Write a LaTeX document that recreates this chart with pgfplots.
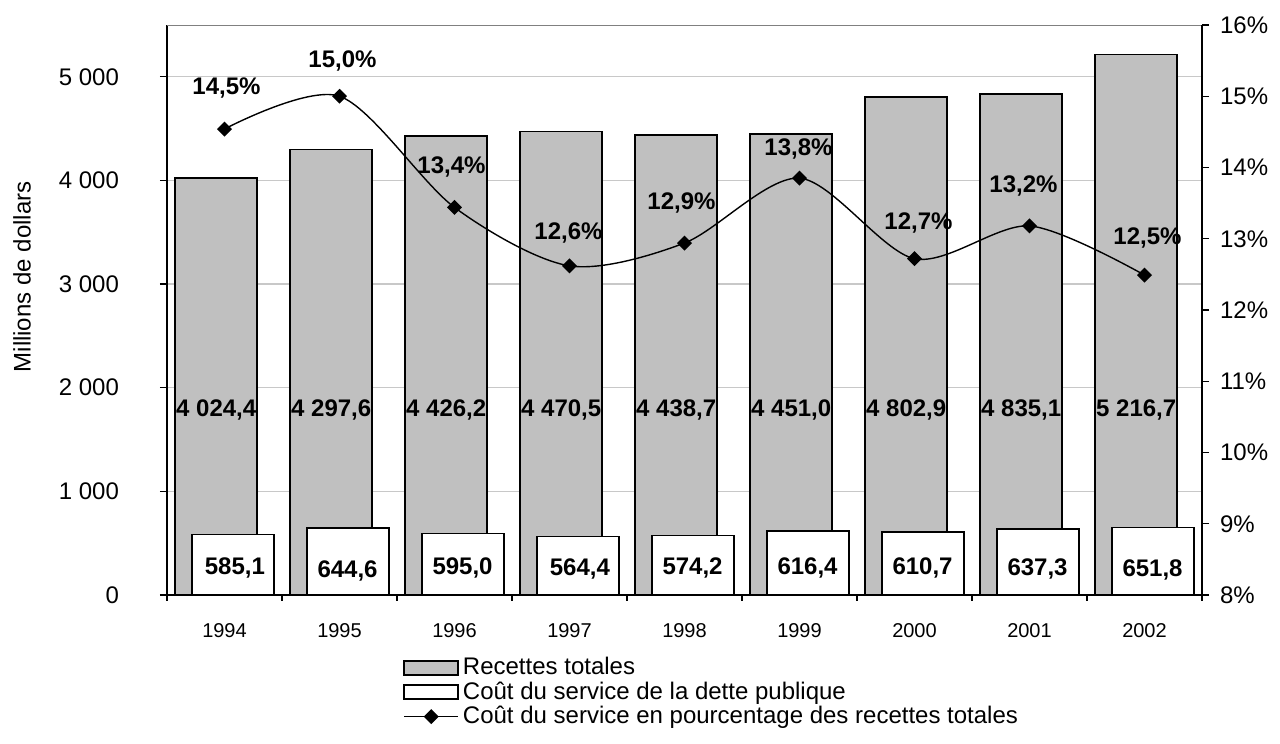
\documentclass[border=0pt]{standalone}
\usepackage{pgfplots}
\pgfplotsset{compat=1.18}
\usepackage{fontspec}
\setmainfont{Liberation Sans}
\definecolor{barg}{RGB}{192,192,192}
\definecolor{gridg}{RGB}{200,200,200}
\newcommand{\ftw}{\fontsize{12}{14}\selectfont}
\newcommand{\ften}{\fontsize{10}{12}\selectfont}
\begin{document}
\begin{tikzpicture}
\useasboundingbox (0,0) rectangle (640pt,372pt);
\begin{axis}[
  at={(83.5pt,74.5pt)}, anchor=south west,
  scale only axis, width=517.5pt, height=285pt,
  xmin=-0.5, xmax=8.5, ymin=0, ymax=5500,
  axis x line*=bottom, axis y line*=left,
  axis line style={line width=0.6pt, -},
  tick align=outside,
  xtick={0,1,2,3,4,5,6,7,8},
  xticklabels={1994,1995,1996,1997,1998,1999,2000,2001,2002},
  major x tick style={draw=none},
  minor xtick={-0.5,0.5,1.5,2.5,3.5,4.5,5.5,6.5,7.5,8.5},
  minor x tick style={black, line width=0.6pt},
  minor tick length=3pt,
  major tick length=3.5pt,
  xticklabel style={font=\ften, yshift=-7pt},
  ytick={0,1000,2000,3000,4000,5000},
  yticklabels={0,1 000,2 000,3 000,4 000,5 000},
  yticklabel style={font=\ftw, xshift=-17pt},
  y tick style={black, line width=0.6pt},
  ymajorgrids, grid style={gridg, line width=0.6pt},
  ylabel={Millions de dollars},
  ylabel style={font=\ftw, at={(axis description cs:-0.14,0.558)}, anchor=center},
]
\addplot[ybar, bar width=41pt, bar shift=-4.125pt, fill=barg, draw=black, line width=0.8pt]
  coordinates {(0,4024.4) (1,4297.6) (2,4426.2) (3,4470.5) (4,4438.7) (5,4451.0) (6,4802.9) (7,4835.1) (8,5216.7)};
\addplot[ybar, bar width=41pt, bar shift=4.125pt, fill=white, draw=black, line width=0.8pt]
  coordinates {(0,585.1) (1,644.6) (2,595.0) (3,564.4) (4,574.2) (5,616.4) (6,610.7) (7,637.3) (8,651.8)};
\addplot[draw=none, mark=none, nodes near coords, point meta=explicit symbolic,
  every node near coord/.append style={anchor=center, font=\ftw\bfseries, inner sep=0pt}]
  coordinates {(-0.072,1790) [4 024,4] (0.928,1790) [4 297,6] (1.928,1790) [4 426,2]
    (2.928,1790) [4 470,5] (3.928,1790) [4 438,7] (4.928,1790) [4 451,0]
    (5.928,1790) [4 802,9] (6.928,1790) [4 835,1] (7.928,1790) [5 216,7]};
\addplot[draw=none, mark=none, nodes near coords, point meta=explicit symbolic,
  every node near coord/.append style={anchor=center, font=\ftw\bfseries, inner sep=0pt}]
  coordinates {(0.09,260) [585,1] (1.07,230) [644,6] (2.07,260) [595,0]
    (3.09,250) [564,4] (4.07,260) [574,2] (5.07,260) [616,4]
    (6.07,260) [610,7] (7.07,250) [637,3] (8.07,245) [651,8]};
\draw[gray, line width=0.6pt] (rel axis cs:0,1) -- (rel axis cs:1,1);
\end{axis}
\begin{axis}[
  at={(83.5pt,74.5pt)}, anchor=south west,
  scale only axis, width=517.5pt, height=285pt,
  xmin=-0.5, xmax=8.5, ymin=8, ymax=16,
  axis x line=none, axis y line*=right,
  axis line style={line width=0.6pt, -},
  tick align=outside, major tick length=3.5pt,
  y tick style={black, line width=0.6pt},
  ytick={8,9,10,11,12,13,14,15,16},
  yticklabels={8\%,9\%,10\%,11\%,12\%,13\%,14\%,15\%,16\%},
  yticklabel style={font=\ftw, xshift=2pt},
  legend style={at={(0.228,-0.102)}, anchor=north west, draw=none, fill=none,
    inner sep=0pt, font=\ftw, row sep=-2pt, cells={anchor=west}},
  legend cell align=left,
]
\addlegendimage{legend image code/.code={\draw[fill=barg, draw=black, line width=0.8pt] (0pt,-3.5pt) rectangle (27pt,3.5pt);}}
\addlegendentry{Recettes totales}
\addlegendimage{legend image code/.code={\draw[fill=white, draw=black, line width=0.8pt] (0pt,-3.5pt) rectangle (27pt,3.5pt);}}
\addlegendentry{Coût du service de la dette publique}
\addplot[black, line width=0.7pt, smooth, mark=square*, mark size=2.3pt,
  mark options={rotate=45, fill=black, solid},
  legend image code/.code={\draw[black, line width=0.7pt] (0pt,0pt) -- (27pt,0pt);
     \fill[black, rotate around={45:(13.5pt,0pt)}] (11.2pt,-2.3pt) rectangle (15.8pt,2.3pt);},
  nodes near coords={\pgfplotspointmeta\%}, point meta=explicit symbolic,
  visualization depends on={\thisrow{dx} \as \dx},
  visualization depends on={\thisrow{dy} \as \dy},
  every node near coord/.append style={anchor=center, font=\ftw\bfseries, inner sep=0pt,
    xshift=\dx pt, yshift=\dy pt}]
  table[x=x, y=y, meta=lab] {
x y lab dx dy
0 14.54 14,5 1 20.5
1 15.00 15,0 1.5 17.5
2 13.44 13,4 -1.5 20
3 12.62 12,6 -0.5 16.5
4 12.94 12,9 -1.5 20
5 13.85 13,8 -0.5 14.5
6 12.72 12,7 2 18
7 13.18 13,2 -3 20
8 12.49 12,5 1.5 18.5
};
\addlegendentry{Coût du service en pourcentage des recettes totales}
\end{axis}
\end{tikzpicture}
\end{document}
